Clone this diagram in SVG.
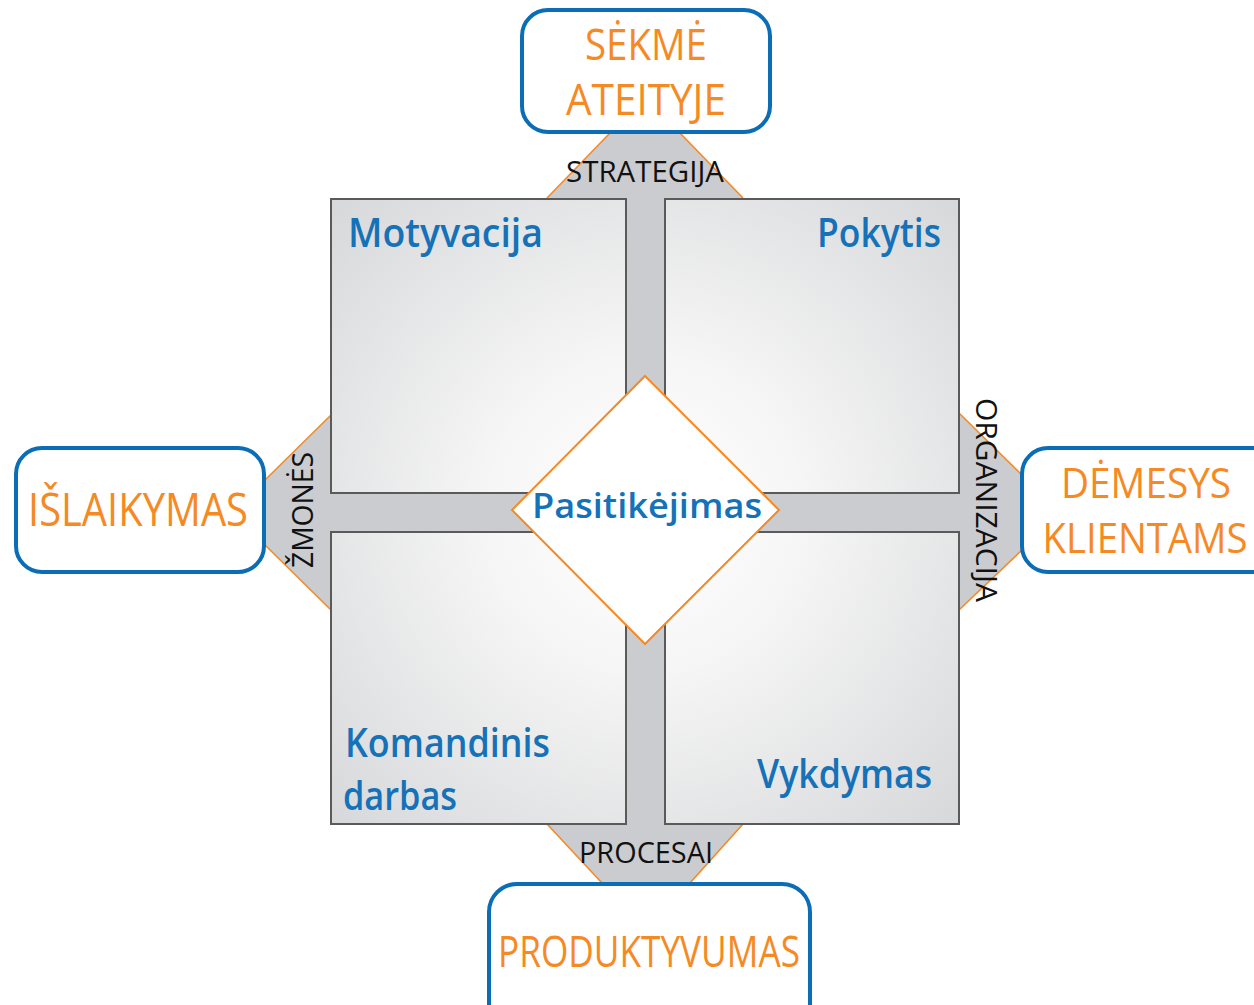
<svg xmlns="http://www.w3.org/2000/svg" width="1254" height="1005" viewBox="0 0 1254 1005">
<defs>
<radialGradient id="sq" gradientUnits="userSpaceOnUse" cx="645" cy="512" r="440">
<stop offset="0" stop-color="#ffffff"/>
<stop offset="0.35" stop-color="#f6f6f6"/>
<stop offset="1" stop-color="#d7d8da"/>
</radialGradient>
<style>
.box{fill:#fff;stroke:#0b6db5;stroke-width:4}
.out{font-family:"Open Sans","Noto Sans",sans-serif;fill:#f58a25;text-anchor:middle}
.lbl{font-family:"Open Sans","Noto Sans",sans-serif;fill:#111;font-size:30px;text-anchor:middle}
.q{font-family:"Open Sans","Noto Sans",sans-serif;fill:#1572b8;font-weight:600;font-size:40px}
.sq{fill:url(#sq);stroke:#5a5a5a;stroke-width:2}
.gray{fill:#cbcccf}
.edge{stroke:#f58a25;stroke-width:1.6;fill:none}
</style>
</defs>
<rect width="1254" height="1005" fill="#fff"/>
<g id="connectors">
<polygon class="gray" points="610,133 680,133 743,198 547,198"/>
<line class="edge" x1="610" y1="133" x2="547" y2="198"/>
<line class="edge" x1="680" y1="133" x2="743" y2="198"/>
<polygon class="gray" points="547,824 743,824 690,883 602,883"/>
<line class="edge" x1="547" y1="824" x2="602" y2="883"/>
<line class="edge" x1="743" y1="824" x2="690" y2="883"/>
<polygon class="gray" points="265,480 331,415 331,610 265,545"/>
<line class="edge" x1="265" y1="480" x2="331" y2="415"/>
<line class="edge" x1="265" y1="545" x2="331" y2="610"/>
<polygon class="gray" points="959,413 1022,475 1022,550 959,610"/>
<line class="edge" x1="959" y1="413" x2="1022" y2="475"/>
<line class="edge" x1="959" y1="610" x2="1022" y2="550"/>
<rect class="gray" x="626" y="197" width="39" height="628"/>
<rect class="gray" x="331" y="493" width="628" height="39"/>
<text class="lbl" x="645" y="182" textLength="158" lengthAdjust="spacingAndGlyphs">STRATEGIJA</text>
<text class="lbl" x="646" y="863" textLength="134" lengthAdjust="spacingAndGlyphs">PROCESAI</text>
<text class="lbl" transform="translate(313,510) rotate(-90)" textLength="116" lengthAdjust="spacingAndGlyphs">ŽMONĖS</text>
<text class="lbl" transform="translate(976,500) rotate(90)" textLength="204" lengthAdjust="spacingAndGlyphs">ORGANIZACIJA</text>
</g>
<g id="motyvacija">
<rect class="sq" x="331" y="199" width="295" height="294"/>
<text class="q" x="348" y="247" textLength="195" lengthAdjust="spacingAndGlyphs">Motyvacija</text>
</g>
<g id="pokytis">
<rect class="sq" x="665" y="199" width="294" height="294"/>
<text class="q" x="941" y="247" text-anchor="end" textLength="124" lengthAdjust="spacingAndGlyphs">Pokytis</text>
</g>
<g id="komandinis-darbas">
<rect class="sq" x="331" y="532" width="295" height="292"/>
<text class="q" x="345" y="757" textLength="205" lengthAdjust="spacingAndGlyphs">Komandinis</text>
<text class="q" x="343" y="810" textLength="114" lengthAdjust="spacingAndGlyphs">darbas</text>
</g>
<g id="vykdymas">
<rect class="sq" x="665" y="532" width="294" height="292"/>
<text class="q" x="932" y="788" text-anchor="end" textLength="175" lengthAdjust="spacingAndGlyphs">Vykdymas</text>
</g>
<g id="pasitikejimas">
<polygon points="645,376 779,510 645,644 512,510" fill="#fff" stroke="#f58a25" stroke-width="2"/>
<text class="q" x="647" y="518" text-anchor="middle" textLength="230" lengthAdjust="spacingAndGlyphs" style="font-size:35px">Pasitikėjimas</text>
</g>
<g id="sekme-ateityje">
<rect class="box" x="522" y="10" width="248" height="122" rx="26"/>
<text class="out" x="646" y="60" font-size="43" textLength="122" lengthAdjust="spacingAndGlyphs">SĖKMĖ</text>
<text class="out" x="646" y="115" font-size="43" textLength="160" lengthAdjust="spacingAndGlyphs">ATEITYJE</text>
</g>
<g id="islaikymas">
<rect class="box" x="16" y="448" width="248" height="124" rx="26"/>
<text class="out" x="138" y="526" font-size="45" textLength="220" lengthAdjust="spacingAndGlyphs">IŠLAIKYMAS</text>
</g>
<g id="demesys-klientams">
<rect class="box" x="1022" y="448" width="260" height="124" rx="26"/>
<text class="out" x="1146" y="498" font-size="42" textLength="170" lengthAdjust="spacingAndGlyphs">DĖMESYS</text>
<text class="out" x="1145" y="553" font-size="42" textLength="205" lengthAdjust="spacingAndGlyphs">KLIENTAMS</text>
</g>
<g id="produktyvumas">
<rect class="box" x="489" y="884" width="321" height="150" rx="28"/>
<text class="out" x="649" y="967" font-size="44" textLength="302" lengthAdjust="spacingAndGlyphs">PRODUKTYVUMAS</text>
</g>
</svg>
